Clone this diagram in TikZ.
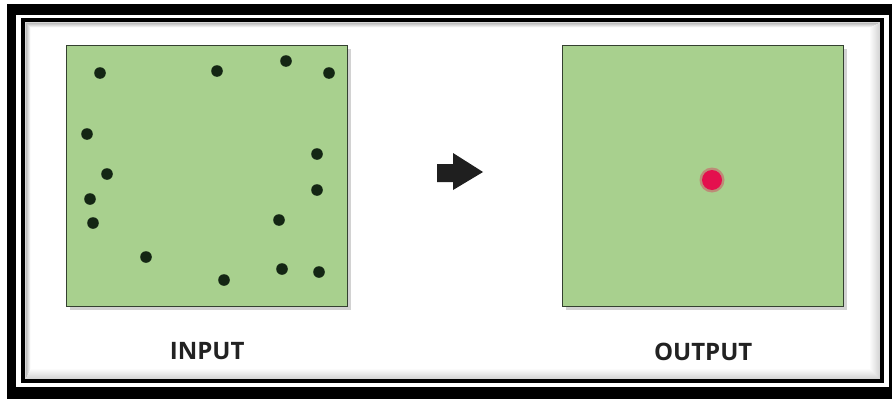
\documentclass[tikz,border=0pt]{standalone}
\usepackage{fontspec}
\setsansfont{Open Sans}
\usepackage{xcolor}
\usetikzlibrary{positioning, shadows}

\definecolor{fieldgreen}{RGB}{168,208,142}
\definecolor{fieldedge}{RGB}{52,64,48}
\definecolor{pointdark}{RGB}{20,38,20}
\definecolor{centrered}{RGB}{228,16,78}
\definecolor{labelgray}{RGB}{34,34,34}

\begin{document}
\begin{tikzpicture}[x=1pt, y=-1pt,
    field/.style={draw=fieldedge, line width=1.4pt, fill=fieldgreen, anchor=north west,
                  minimum width=281pt, minimum height=261pt, inner sep=0pt,
                  drop shadow={shadow xshift=3pt, shadow yshift=-3pt, opacity=.35}},
    caption/.style={inner sep=0pt, text=labelgray, font=\sffamily\bfseries\fontsize{24}{26}\selectfont},
    pt/.style={fill=pointdark}]

    % Page background and size
    \fill[white] (0,0) rectangle (892,399);
    \useasboundingbox (0,0) rectangle (892,399);

    % Double black frame
    \fill[black] (7,4) rectangle (892,399);
    \fill[white] (16,15) rectangle (889,387);
    \fill[black] (21,18) rectangle (884,383);
    \fill[white] (25,22) rectangle (880,379);

    % Soft inner shadow along the frame
    \foreach \i [evaluate=\i as \op using 0.16-0.016*\i] in {0,...,9}
        \draw[black, opacity=\op, line width=1pt] (25.5+0.5*\i,22.5+0.5*\i) rectangle (879.5-\i,378.5-\i);

    % Input and output fields
    \node[field] (inbox) at (66,45) {};
    \node[field] (outbox) at (562,45) {};

    % Scattered input points
    \foreach \x/\y in {100/73, 217/71, 286/61, 329/73, 87/134, 107/174, 90/199,
                       93/223, 146/257, 224/280, 282/269, 319/272, 279/220,
                       317/190, 317/154}
        \fill[pt] (\x,\y) circle (5.8pt);

    % Single output point
    \fill[centrered, opacity=.35] (712,180) circle (12.5pt);
    \fill[centrered] (712,180) circle (10pt);

    % Arrow between the fields
    \fill[black!88] (437,164) -- (453,164) -- (453,153) -- (483,172)
                    -- (453,190) -- (453,182) -- (437,182) -- cycle;

    % Captions
    \node[caption, below=35pt of inbox] (inlabel) {INPUT};
    \node[caption, below=35pt of outbox] (outlabel) {OUTPUT};

\end{tikzpicture}
\end{document}
